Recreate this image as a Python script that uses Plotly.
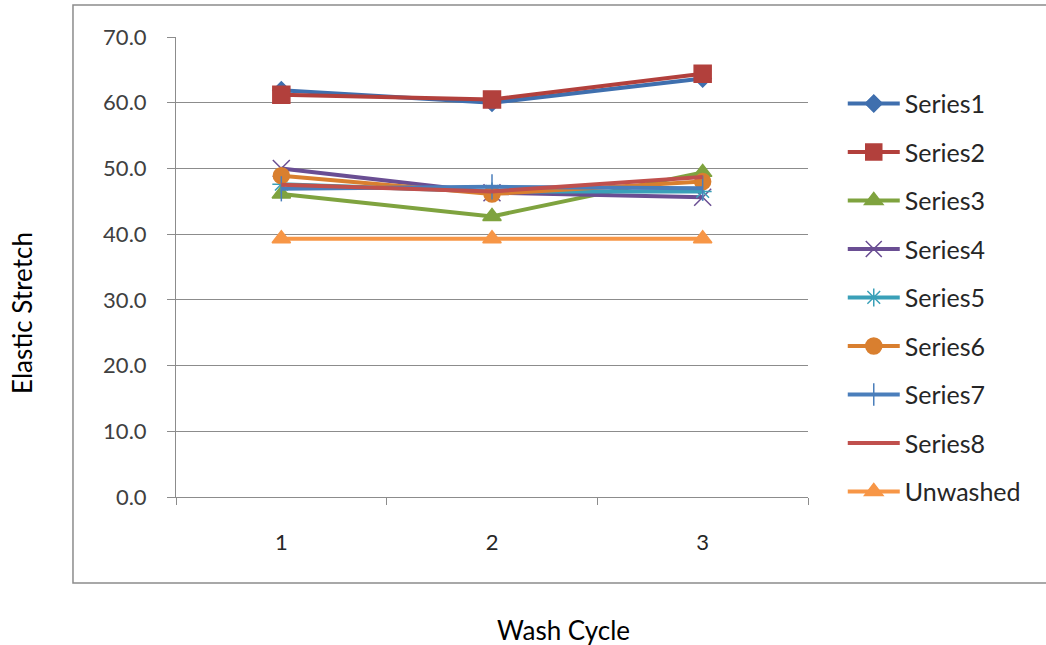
import plotly.graph_objects as go

cycles = ["1", "2", "3"]
series1 = [61.9, 60.0, 63.7]
series2 = [61.2, 60.5, 64.4]
series3 = [46.1, 42.7, 49.4]
series4 = [50.0, 46.3, 45.6]
series5 = [47.6, 46.5, 46.5]
series6 = [48.9, 46.1, 48.0]
series7 = [46.9, 47.2, 47.0]
series8 = [47.5, 46.5, 48.7]
unwashed = [39.3, 39.3, 39.3]

names = ["Series1", "Series2", "Series3", "Series4", "Series5", "Series6", "Series7", "Series8", "Unwashed"]
values = [series1, series2, series3, series4, series5, series6, series7, series8, unwashed]
colors = ["#3F6FAE", "#B2403C", "#7FA33F", "#6A4E93", "#3AA0B8", "#D97F2F", "#4A7EBB", "#C0504D", "#F79646"]
symbols = ["diamond", "square", "triangle-up", "x-thin-open", "asterisk-open", "circle", "line-ns-open", "circle", "triangle-up"]
sizes = [13, 17, 16, 17, 15, 16, 18, 0, 16]
mline = ["#3F6FAE", "#B2403C", "#7FA33F", "#8F7AB0", "#6BB8CC", "#D97F2F", "#4A7EBB", "#C0504D", "#F79646"]

PL, PT = 176, 37
PW, PH = 632, 460
W, H = 1046, 645

fig = go.Figure()
for i, (n, v) in enumerate(zip(names, values)):
    fig.add_trace(go.Scatter(
        x=cycles, y=v, name=n, legendgroup=n,
        mode="lines+markers" if sizes[i] > 0 else "lines",
        line=dict(color=colors[i], width=4),
        marker=dict(symbol=symbols[i], size=sizes[i] if sizes[i] > 0 else 1,
                    color=colors[i], line=dict(color=mline[i], width=1.5)),
    ))

fig.update_layout(
    width=W, height=H,
    margin=dict(l=PL, r=W - PL - PW, t=PT, b=H - PT - PH),
    paper_bgcolor="white", plot_bgcolor="white",
    font=dict(family="Lato, 'Open Sans', sans-serif", color="#404040"),
    showlegend=True,
    legend=dict(x=1.055, y=0.905, xanchor="left", yanchor="top",
                font=dict(size=25, color="#262626"),
                traceorder="grouped", tracegroupgap=13,
                itemwidth=52, bgcolor="rgba(0,0,0,0)"),
    xaxis=dict(type="category", range=[-0.5, 2.5], showgrid=False, showline=True,
               linecolor="#8c8c8c", linewidth=1,
               ticks="outside", tickson="boundaries", ticklen=7, tickcolor="#8c8c8c",
               tickfont=dict(size=22, color="#262626"), ticklabelstandoff=26, zeroline=False),
    yaxis=dict(range=[0, 70], dtick=10, tickformat=".1f", showgrid=True, gridcolor="#8c8c8c", gridwidth=1,
               showline=True, linecolor="#8c8c8c", linewidth=1, ticks="outside", ticklen=8,
               tickcolor="#8c8c8c", tickfont=dict(size=22, color="#404040"), ticklabelstandoff=16,
               zeroline=False),
    shapes=[dict(type="rect", xref="paper", yref="paper", x0=-0.163, x1=1.40, y0=-0.187, y1=1.0696,
                 line=dict(color="#8c8c8c", width=1.5), fillcolor="rgba(0,0,0,0)", layer="below")],
    annotations=[
        dict(text="Elastic Stretch", xref="paper", yref="paper", x=(22 - 176) / 632, y=(497 - 313) / 460,
             textangle=-90, showarrow=False, font=dict(size=26, color="#000000"), xanchor="center", yanchor="middle"),
        dict(text="Wash Cycle", xref="paper", yref="paper", x=(563 - 176) / 632, y=(497 - 630) / 460,
             showarrow=False, font=dict(size=26, color="#000000"), xanchor="center", yanchor="middle"),
    ],
)

fig.write_html("out.html", config={"displayModeBar": False},
               post_script="document.body.style.margin='0px';document.body.style.overflow='hidden';")
